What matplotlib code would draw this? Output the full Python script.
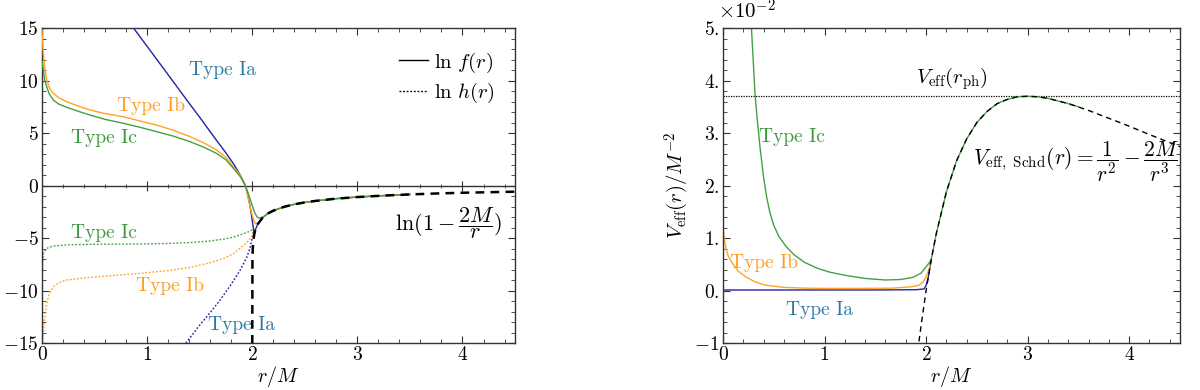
import matplotlib
matplotlib.use("Agg")
import matplotlib.pyplot as plt
from matplotlib.lines import Line2D
from matplotlib.ticker import MultipleLocator

plt.rcParams['font.family'] = 'serif'
plt.rcParams['font.serif'] = ['cmr10', 'DejaVu Serif']
plt.rcParams['mathtext.fontset'] = 'cm'
plt.rcParams['axes.unicode_minus'] = False

# ---------------- data: left panel (ln f, ln h) ----------------
r_schw_left = [2.0, 2.002, 2.005, 2.01, 2.02, 2.03, 2.05, 2.1, 2.15, 2.2, 2.3, 2.4,
               2.5, 2.6, 2.8, 3.0, 3.25, 3.5, 3.75, 4.0, 4.25, 4.5]
lnf_schw = [-16.5, -6.91, -5.99, -5.30, -4.61, -4.21, -3.71, -3.04, -2.66, -2.40, -2.04, -1.79,
            -1.61, -1.47, -1.25, -1.10, -0.96, -0.85, -0.76, -0.69, -0.64, -0.59]

r_ext_left = [2.15, 2.2, 2.3, 2.4, 2.5, 2.6, 2.8, 3.0, 3.25, 3.5]
lnf_ext = [-2.66, -2.40, -2.04, -1.79, -1.61, -1.47, -1.25, -1.10, -0.96, -0.85]

r_Ia_f = [0.80, 0.87, 1.0, 1.2, 1.38, 1.5, 1.66, 1.75, 1.82, 1.88, 1.92, 1.95, 1.98, 2.0,
          2.015, 2.03, 2.05, 2.1]
lnf_Ia = [15.95, 15.0, 13.25, 10.55, 8.1, 6.5, 4.3, 3.1, 2.1, 1.1, 0.3, -0.5, -2.0, -3.3,
          -4.4, -4.21, -3.71, -3.04]

r_Ib_f = [0.0, 0.005, 0.013, 0.025, 0.045, 0.07, 0.108, 0.16, 0.235, 0.35, 0.457, 0.6,
          0.775, 0.93, 1.09, 1.25, 1.41, 1.55, 1.66, 1.75, 1.82, 1.886, 1.93, 1.96, 1.99,
          2.02, 2.035, 2.06, 2.1]
lnf_Ib = [14.8, 13.6, 12.6, 11.3, 10.05, 9.3, 8.78, 8.35, 7.98, 7.55, 7.19, 6.85,
          6.55, 6.15, 5.76, 5.25, 4.65, 4.0, 3.38, 2.7, 1.79, 1.0, 0.1, -1.1, -2.5,
          -3.45, -3.67, -3.53, -3.04]

r_Ic_f = [0.0, 0.005, 0.013, 0.025, 0.045, 0.07, 0.108, 0.16, 0.235, 0.35, 0.457, 0.6,
          0.775, 0.93, 1.09, 1.25, 1.41, 1.55, 1.66, 1.75, 1.82, 1.886, 1.93, 1.96, 1.99,
          2.02, 2.045, 2.07, 2.1]
lnf_Ic = [11.8, 11.5, 11.0, 10.1, 9.4, 8.7, 8.14, 7.75, 7.45, 7.05, 6.71, 6.3,
          5.92, 5.55, 5.13, 4.7, 4.17, 3.6, 3.06, 2.45, 1.64, 0.85, 0.1, -0.7, -1.6,
          -2.5, -3.0, -3.1, -3.04]

r_Ia_h = [1.35, 1.377, 1.5, 1.6, 1.695, 1.8, 1.886, 1.95, 1.98, 2.0, 2.01]
lnh_Ia = [-15.3, -14.9, -13.3, -12.1, -10.9, -9.4, -8.05, -6.8, -5.9, -5.0, -4.4]

r_Ib_h = [0.0, 0.006, 0.02, 0.045, 0.07, 0.108, 0.16, 0.235, 0.457, 0.7, 0.93, 1.2,
          1.41, 1.6, 1.73, 1.82, 1.886, 1.95, 1.997, 2.01]
lnh_Ib = [-16.0, -15.0, -13.1, -11.2, -10.3, -9.64, -9.25, -9.0, -8.75, -8.55, -8.37, -8.1,
          -7.8, -7.35, -6.93, -6.5, -5.98, -5.4, -4.9, -4.4]

r_Ic_h = [0.0, 0.005, 0.013, 0.045, 0.108, 0.25, 0.457, 0.93, 1.2, 1.41, 1.6, 1.73,
          1.82, 1.886, 1.95, 1.997, 2.01]
lnh_Ic = [-10.0, -7.5, -6.46, -5.98, -5.76, -5.65, -5.6, -5.57, -5.52, -5.44, -5.28, -5.1,
          -4.92, -4.7, -4.48, -4.24, -4.3]

# ---------------- data: right panel (V_eff in units of 1e-2 M^-2) ----------------
r_schw_right = [1.93, 1.95, 2.0, 2.05, 2.1, 2.2, 2.3, 2.4, 2.5, 2.6, 2.7, 2.8, 2.9, 3.0,
                3.1, 3.2, 3.4, 3.6, 3.8, 4.0, 4.2, 4.5]
V_schw = [-0.97, -0.68, 0.0, 0.58, 1.08, 1.88, 2.47, 2.89, 3.20, 3.41, 3.56, 3.64, 3.69, 3.70,
          3.69, 3.66, 3.56, 3.43, 3.28, 3.13, 2.97, 2.74]

r_ext_right = [2.1, 2.2, 2.3, 2.4, 2.5, 2.6, 2.7, 2.8, 2.9, 3.0, 3.1, 3.2, 3.4, 3.5]
V_ext = [1.08, 1.88, 2.47, 2.89, 3.20, 3.41, 3.56, 3.64, 3.69, 3.70, 3.69, 3.66, 3.56, 3.50]

r_Ia_V = [0.0, 0.5, 1.0, 1.5, 1.9, 1.98, 2.0, 2.02, 2.05]
V_Ia = [0.01, 0.01, 0.01, 0.01, 0.015, 0.03, 0.1, 0.24, 0.58]

r_Ib_V = [0.0, 0.01, 0.026, 0.05, 0.092, 0.15, 0.224, 0.32, 0.42, 0.6, 0.8, 1.01, 1.3,
          1.67, 1.85, 1.93, 1.97, 2.0, 2.03, 2.05]
V_Ib = [1.22, 1.0, 0.83, 0.66, 0.52, 0.37, 0.26, 0.16, 0.10, 0.06, 0.045, 0.04, 0.04,
        0.045, 0.07, 0.1, 0.16, 0.26, 0.42, 0.58]

r_Ic_V = [0.26, 0.28, 0.30, 0.315, 0.34, 0.365, 0.40, 0.43, 0.46, 0.50, 0.55, 0.62, 0.70,
          0.80, 0.92, 1.05, 1.2, 1.4, 1.6, 1.75, 1.87, 1.95, 2.0, 2.05]
V_Ic = [5.6, 5.0, 4.3, 3.75, 3.2, 2.72, 2.15, 1.78, 1.50, 1.24, 1.03, 0.84, 0.68,
        0.54, 0.43, 0.35, 0.29, 0.23, 0.20, 0.21, 0.25, 0.33, 0.45, 0.58]

V_photon = 3.70

# tick labels
xticks = [0, 1, 2, 3, 4]
left_yticks = [-15, -10, -5, 0, 5, 10, 15]
right_yticks = [-1, 0, 1, 2, 3, 4, 5]
right_ylabels = ['$-1$', '$0.$', '$1.$', '$2.$', '$3.$', '$4.$', '$5.$']

# ---------------- styles ----------------
C_BLUE = '#2323a6'
C_ORANGE = '#ffa424'
C_GREEN = '#43a043'
C_BLUE_TXT = '#2e7aa6'
C_ORANGE_TXT = '#ff9e22'
C_GREEN_TXT = '#3f9a3f'
FRAME = '#333333'
LW = 1.0
DOT = (0, (1.3, 1.3))

fig = plt.figure(figsize=(12, 3.9), dpi=100)
axL = fig.add_axes([0.035, 0.1205, 0.3942, 0.8077])
axR = fig.add_axes([0.6025, 0.1205, 0.3808, 0.8077])


def style_axes(ax):
    for s in ax.spines.values():
        s.set_color(FRAME)
        s.set_linewidth(1.0)
    ax.tick_params(which='both', direction='in', top=True, right=True, color=FRAME,
                   labelsize=14, pad=2.5)
    ax.tick_params(which='major', length=5, width=0.8)
    ax.tick_params(which='minor', length=2.6, width=0.6)


# ---------------- left panel ----------------
axL.set_xlim(0, 4.5)
axL.set_ylim(-15, 15)
axL.axhline(0, color=FRAME, lw=1.0, zorder=1)
axL.plot(xticks, [0] * len(xticks), ls='none', marker='|', ms=7, mew=0.8, color=FRAME, zorder=1)
minor_x = [i * 0.2 for i in range(23)]
axL.plot(minor_x, [0] * len(minor_x), ls='none', marker='|', ms=3.5, mew=0.6, color=FRAME, zorder=1)

axL.plot(r_Ia_h, lnh_Ia, color=C_BLUE, lw=LW, ls=DOT, zorder=2)
axL.plot(r_Ib_h, lnh_Ib, color=C_ORANGE, lw=LW, ls=DOT, zorder=2)
axL.plot(r_Ic_h, lnh_Ic, color=C_GREEN, lw=LW, ls=DOT, zorder=2)

axL.plot(r_Ia_f + r_ext_left, lnf_Ia + lnf_ext, color=C_BLUE, lw=LW, zorder=3)
axL.plot(r_Ib_f + r_ext_left, lnf_Ib + lnf_ext, color=C_ORANGE, lw=LW, zorder=3)
axL.plot(r_Ic_f + r_ext_left, lnf_Ic + lnf_ext, color=C_GREEN, lw=LW, zorder=3)

axL.plot(r_schw_left, lnf_schw, color='black', lw=1.8, ls=(0, (3.5, 2.5)), zorder=4)

style_axes(axL)
axL.xaxis.set_minor_locator(MultipleLocator(0.2))
axL.yaxis.set_minor_locator(MultipleLocator(1))
axL.set_xticks(xticks)
axL.set_xticklabels([f'${v}$' for v in xticks])
axL.set_yticks(left_yticks)
axL.set_yticklabels([f'${v}$' for v in left_yticks])
axL.set_xlabel('$r/M$', fontsize=14.5, labelpad=0)

axL.text(1.72, 11.0, 'Type Ia', color=C_BLUE_TXT, fontsize=14, ha='center', va='center')
axL.text(1.04, 7.6, 'Type Ib', color=C_ORANGE_TXT, fontsize=14, ha='center', va='center')
axL.text(0.59, 4.5, 'Type Ic', color=C_GREEN_TXT, fontsize=14, ha='center', va='center')
axL.text(0.59, -4.5, 'Type Ic', color=C_GREEN_TXT, fontsize=14, ha='center', va='center')
axL.text(1.22, -9.6, 'Type Ib', color=C_ORANGE_TXT, fontsize=14, ha='center', va='center')
axL.text(1.9, -13.3, 'Type Ia', color=C_BLUE_TXT, fontsize=14, ha='center', va='center')
axL.text(3.87, -3.6, r'$\ln(1-\dfrac{2M}{r})$', fontsize=16, ha='center', va='center')

handles = [Line2D([], [], color='black', lw=1.0),
           Line2D([], [], color='black', lw=1.0, ls=DOT)]
axL.legend(handles, [r'$\ln\,f(r)$', r'$\ln\,h(r)$'], loc='upper right',
           bbox_to_anchor=(0.975, 0.955), frameon=False, fontsize=15,
           handlelength=1.4, handletextpad=0.3, labelspacing=0.3, borderaxespad=0)

# ---------------- right panel ----------------
axR.set_xlim(0, 4.5)
axR.set_ylim(-1, 5)
axR.axhline(V_photon, color='black', lw=0.9, ls=(0, (1, 1)), zorder=1)
axR.plot(r_Ia_V, V_Ia, color=C_BLUE, lw=LW, zorder=2)
axR.plot(r_Ib_V, V_Ib, color=C_ORANGE, lw=LW, zorder=2)
axR.plot(r_Ic_V + r_ext_right, V_Ic + V_ext, color=C_GREEN, lw=LW, zorder=2)
axR.plot(r_schw_right, V_schw, color='black', lw=1.0, ls=(0, (4, 3)), zorder=3)

style_axes(axR)
axR.xaxis.set_minor_locator(MultipleLocator(0.2))
axR.yaxis.set_minor_locator(MultipleLocator(0.2))
axR.set_xticks(xticks)
axR.set_xticklabels([f'${v}$' for v in xticks])
axR.set_yticks(right_yticks)
axR.set_yticklabels(right_ylabels)
axR.set_xlabel('$r/M$', fontsize=14.5, labelpad=0)
axR.set_ylabel(r'$V_{\mathrm{eff}}(r)/M^{-2}$', fontsize=15, labelpad=2)
axR.text(-0.01, 1.015, r'$\times 10^{-2}$', transform=axR.transAxes, fontsize=15,
         ha='left', va='bottom')

axR.text(0.68, 2.92, 'Type Ic', color=C_GREEN_TXT, fontsize=14, ha='center', va='center')
axR.text(0.40, 0.52, 'Type Ib', color=C_ORANGE_TXT, fontsize=14, ha='center', va='center')
axR.text(0.95, -0.38, 'Type Ia', color=C_BLUE_TXT, fontsize=14, ha='center', va='center')
axR.text(2.25, 3.78, r'$V_{\mathrm{eff}}(r_{\mathrm{ph}})$', fontsize=15, ha='center', va='bottom')
axR.text(4.49, 2.45, r'$V_{\mathrm{eff,\ Schd}}(r)=\dfrac{1}{r^2}-\dfrac{2M}{r^3}$',
         fontsize=15.5, ha='right', va='center')

fig.savefig('out.png', dpi=100)
